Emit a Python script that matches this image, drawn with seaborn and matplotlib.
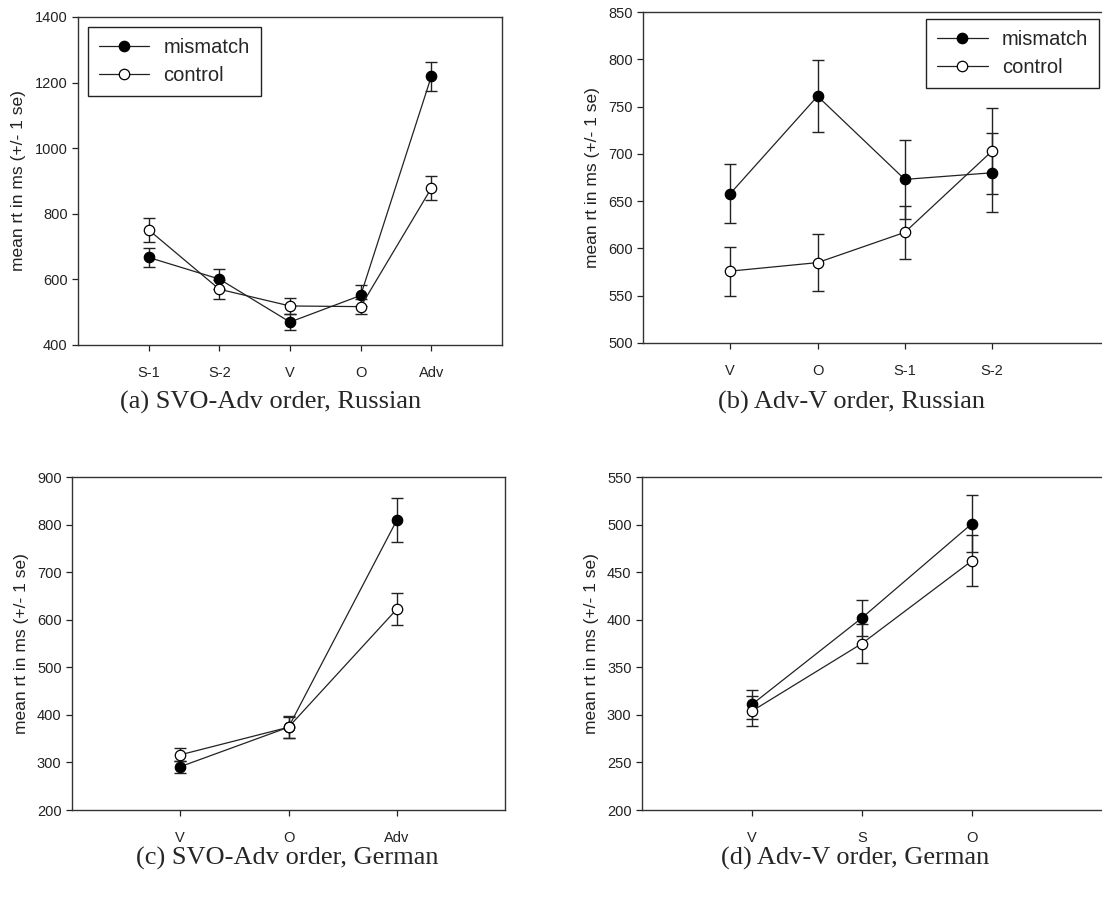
import matplotlib
import seaborn as sns
import matplotlib.pyplot as plt
import pandas as pd

matplotlib.use('Agg')

# (a) SVO-Adv order, Russian
a_labels = ['S-1', 'S-2', 'V', 'O', 'Adv']
a_mismatch = [667, 601, 470, 551, 1219]
a_mismatch_se = [28, 31, 24, 31, 44]
a_control = [751, 570, 519, 517, 878]
a_control_se = [36, 29, 25, 23, 37]

# (b) Adv-V order, Russian
b_labels = ['V', 'O', 'S-1', 'S-2']
b_mismatch = [658, 761, 673, 680]
b_mismatch_se = [31, 38, 42, 42]
b_control = [576, 585, 617, 703]
b_control_se = [26, 30, 28, 45]

# (c) SVO-Adv order, German
c_labels = ['V', 'O', 'Adv']
c_mismatch = [291, 374, 809]
c_mismatch_se = [13, 22, 46]
c_control = [316, 374, 622]
c_control_se = [14, 23, 34]

# (d) Adv-V order, German
d_labels = ['V', 'S', 'O']
d_mismatch = [311, 402, 501]
d_mismatch_se = [15, 19, 30]
d_control = [304, 375, 462]
d_control_se = [16, 20, 27]

sns.set_style('white')
plt.rcParams['font.family'] = ['Liberation Sans', 'DejaVu Sans']

W, H = 1102, 909
fig = plt.figure(figsize=(W / 100, H / 100), dpi=100)


def panel(rect, labels, mis, mis_se, con, con_se, ylim, yticks, xmax, legend_at=None):
    ax = fig.add_axes(rect)
    pos = list(range(1, len(labels) + 1))
    df = pd.DataFrame({
        'pos': pos * 2,
        'rt': mis + con,
        'cond': ['mismatch'] * len(pos) + ['control'] * len(pos),
    })
    for cond, vals, se, face in [('mismatch', mis, mis_se, 'black'),
                                 ('control', con, con_se, 'white')]:
        ax.errorbar(pos, vals, yerr=se, fmt='none', ecolor='#222222',
                    elinewidth=1.0, capsize=4.5, capthick=1.0, zorder=2)
        sns.lineplot(data=df[df['cond'] == cond], x='pos', y='rt', ax=ax,
                     color='#222222', linewidth=0.9, marker='o',
                     markersize=7.5, markerfacecolor=face,
                     markeredgecolor='black', markeredgewidth=0.9,
                     label=cond, legend=False, zorder=3)
    ax.set_xlim(0, xmax)
    ax.set_ylim(*ylim)
    ax.set_yticks(yticks)
    ax.set_xticks(pos)
    ax.set_xticklabels(labels)
    ax.set_xlabel('')
    ax.set_ylabel('mean rt in ms (+/- 1 se)', fontsize=12.5, color='#222222', labelpad=6)
    ax.tick_params(axis='both', direction='out', length=4, width=0.9,
                   colors='#222222', labelsize=10.5, left=True, bottom=True)
    ax.tick_params(axis='x', pad=11)
    for s in ax.spines.values():
        s.set_color('#333333')
        s.set_linewidth(1.0)
    if legend_at is not None:
        loc, anchor = legend_at
        leg = ax.legend(loc=loc, bbox_to_anchor=anchor, bbox_transform=fig.transFigure,
                        fontsize=14.5, frameon=True, fancybox=False,
                        edgecolor='#222222', framealpha=1, handlelength=2.5,
                        borderpad=0.55, labelspacing=0.45, handletextpad=0.7,
                        borderaxespad=0)
        leg.get_frame().set_linewidth(1.0)
    return ax


panel([78 / W, 1 - 345 / H, 424 / W, 328 / H], a_labels, a_mismatch, a_mismatch_se,
      a_control, a_control_se, (400, 1400), range(400, 1401, 200), 6,
      ('upper left', (88 / W, 1 - 27 / H)))
panel([643 / W, 1 - 343 / H, 480 / W, 331 / H], b_labels, b_mismatch, b_mismatch_se,
      b_control, b_control_se, (500, 850), range(500, 851, 50), 5.5,
      ('upper right', (1099 / W, 1 - 19 / H)))
panel([72 / W, 1 - 810 / H, 433 / W, 333 / H], c_labels, c_mismatch, c_mismatch_se,
      c_control, c_control_se, (200, 900), range(200, 901, 100), 4)
panel([642 / W, 1 - 810 / H, 495 / W, 333 / H], d_labels, d_mismatch, d_mismatch_se,
      d_control, d_control_se, (200, 550), range(200, 551, 50), 4.5)

captions = [(271, 402, '(a) SVO-Adv order, Russian'),
            (852, 402, '(b) Adv-V order, Russian'),
            (287, 858, '(c) SVO-Adv order, German'),
            (855, 858, '(d) Adv-V order, German')]
for x, y, t in captions:
    fig.text(x / W, 1 - y / H, t, ha='center', va='center',
             fontsize=19, family=['Liberation Serif', 'DejaVu Serif'])

plt.savefig('out.png', dpi=100)
